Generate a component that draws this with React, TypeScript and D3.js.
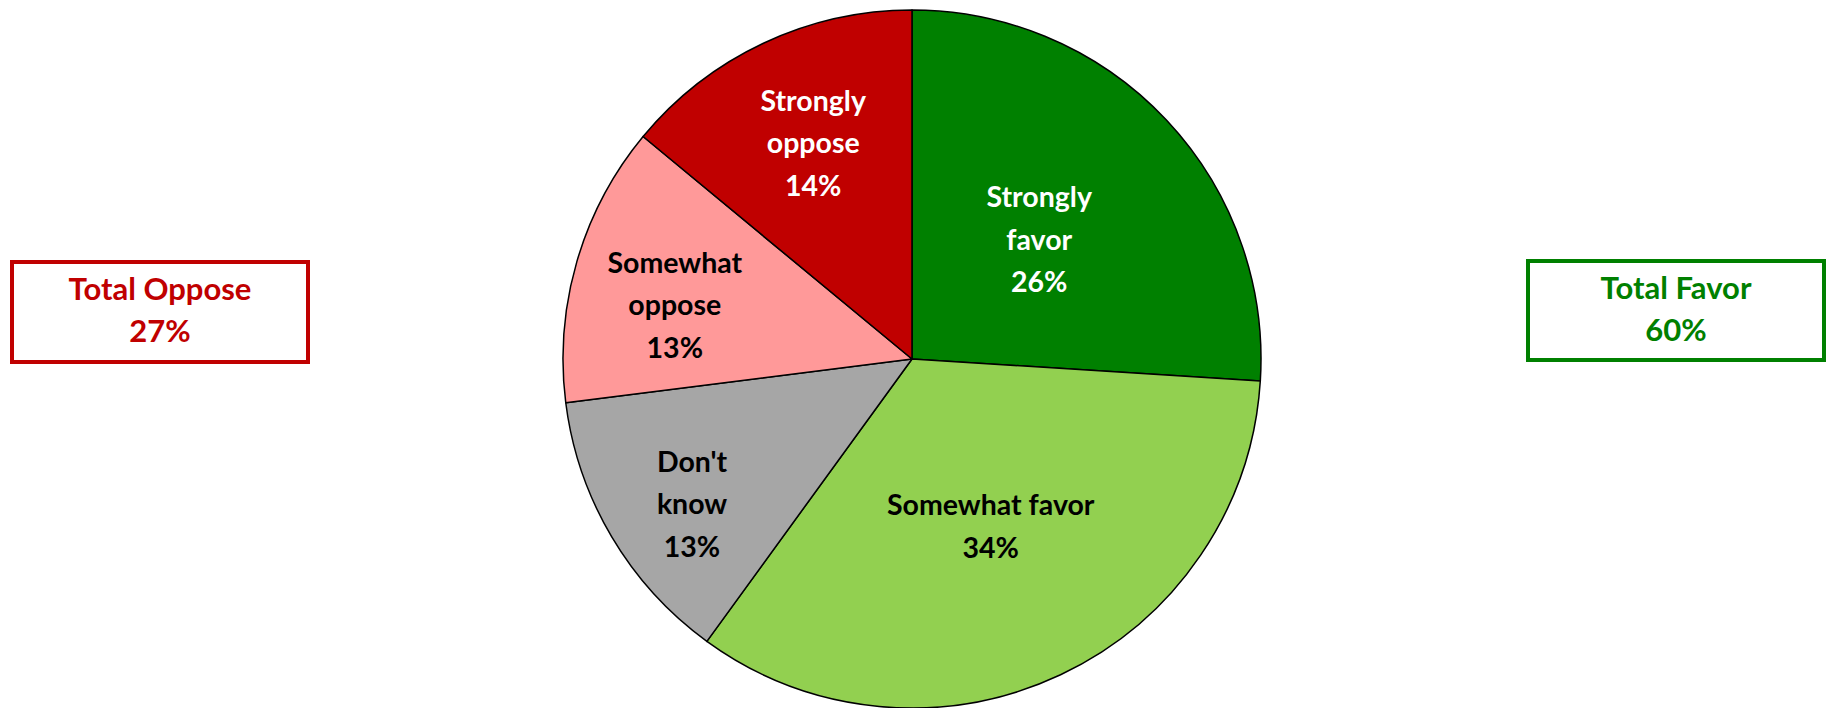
import React from "react";
import * as d3 from "d3";

const categories = ["Strongly favor", "Somewhat favor", "Don't know", "Somewhat oppose", "Strongly oppose"];
const values = [26, 34, 13, 13, 14];
const labelLines = [["Strongly", "favor"], ["Somewhat favor"], ["Don't", "know"], ["Somewhat", "oppose"], ["Strongly", "oppose"]];
const totals = [
  { label: "Total Oppose", value: 27 },
  { label: "Total Favor", value: 60 },
];

const colors = ["#008000", "#92D050", "#A6A6A6", "#FF9999", "#C00000"];
const textColors = ["#FFFFFF", "#000000", "#000000", "#000000", "#FFFFFF"];
const labelRadiusFactor = [0.5, 0.53, 0.755, 0.697, 0.68];
const labelAngleOffsetDeg = [0, 0, -2.8, -3.4, 0.6];
const boxColors = ["#C00000", "#008000"];
const boxes = [
  { x: 12, y: 262, w: 296, h: 100 },
  { x: 1528, y: 261, w: 296, h: 99 },
];

const W = 1831, H = 708;
const cx = 912, cy = 359, R = 349;
const FONT = "Lato, 'Open Sans', sans-serif";
const FS = 28.5;
const BFS = 31;
const LH = 42.5;

export default function App() {
  const pie = d3.pie<number>().sort(null).value((d) => d)(values);
  const arc = d3.arc<d3.PieArcDatum<number>>().innerRadius(0).outerRadius(R);
  return (
    <svg width={W} height={H} style={{ position: "absolute", left: 0, top: 0, background: "#fff" }} fontFamily={FONT}>
      <g transform={`translate(${cx},${cy})`}>
        {pie.map((p, i) => (
          <path key={categories[i]} d={arc(p) || ""} fill={colors[i]} stroke="#000" strokeWidth={1.5} strokeLinejoin="round" />
        ))}
        {pie.map((p, i) => {
          const lr = R * labelRadiusFactor[i];
          const off = (labelAngleOffsetDeg[i] * Math.PI) / 180;
          const c = d3
            .arc<d3.PieArcDatum<number>>()
            .innerRadius(lr)
            .outerRadius(lr)
            .centroid({ ...p, startAngle: p.startAngle + off, endAngle: p.endAngle + off });
          const lines = [...labelLines[i], `${values[i]}%`];
          const n = lines.length;
          return (
            <text key={"l" + i} x={c[0]} y={c[1]} textAnchor="middle" fill={textColors[i]} fontWeight={700} fontSize={FS}>
              {lines.map((ln, j) => (
                <tspan key={j} x={c[0]} y={c[1] + (j - (n - 1) / 2) * LH} dy="0.36em">{ln}</tspan>
              ))}
            </text>
          );
        })}
      </g>
      {totals.map((t, i) => {
        const b = boxes[i];
        const mx = b.x + b.w / 2;
        return (
          <g key={t.label}>
            <rect x={b.x} y={b.y} width={b.w} height={b.h} fill="#fff" stroke={boxColors[i]} strokeWidth={4} />
            <text x={mx} y={b.y + 38} textAnchor="middle" fill={boxColors[i]} fontWeight={700} fontSize={BFS}>{t.label}</text>
            <text x={mx} y={b.y + 80} textAnchor="middle" fill={boxColors[i]} fontWeight={700} fontSize={BFS}>{`${t.value}%`}</text>
          </g>
        );
      })}
    </svg>
  );
}
